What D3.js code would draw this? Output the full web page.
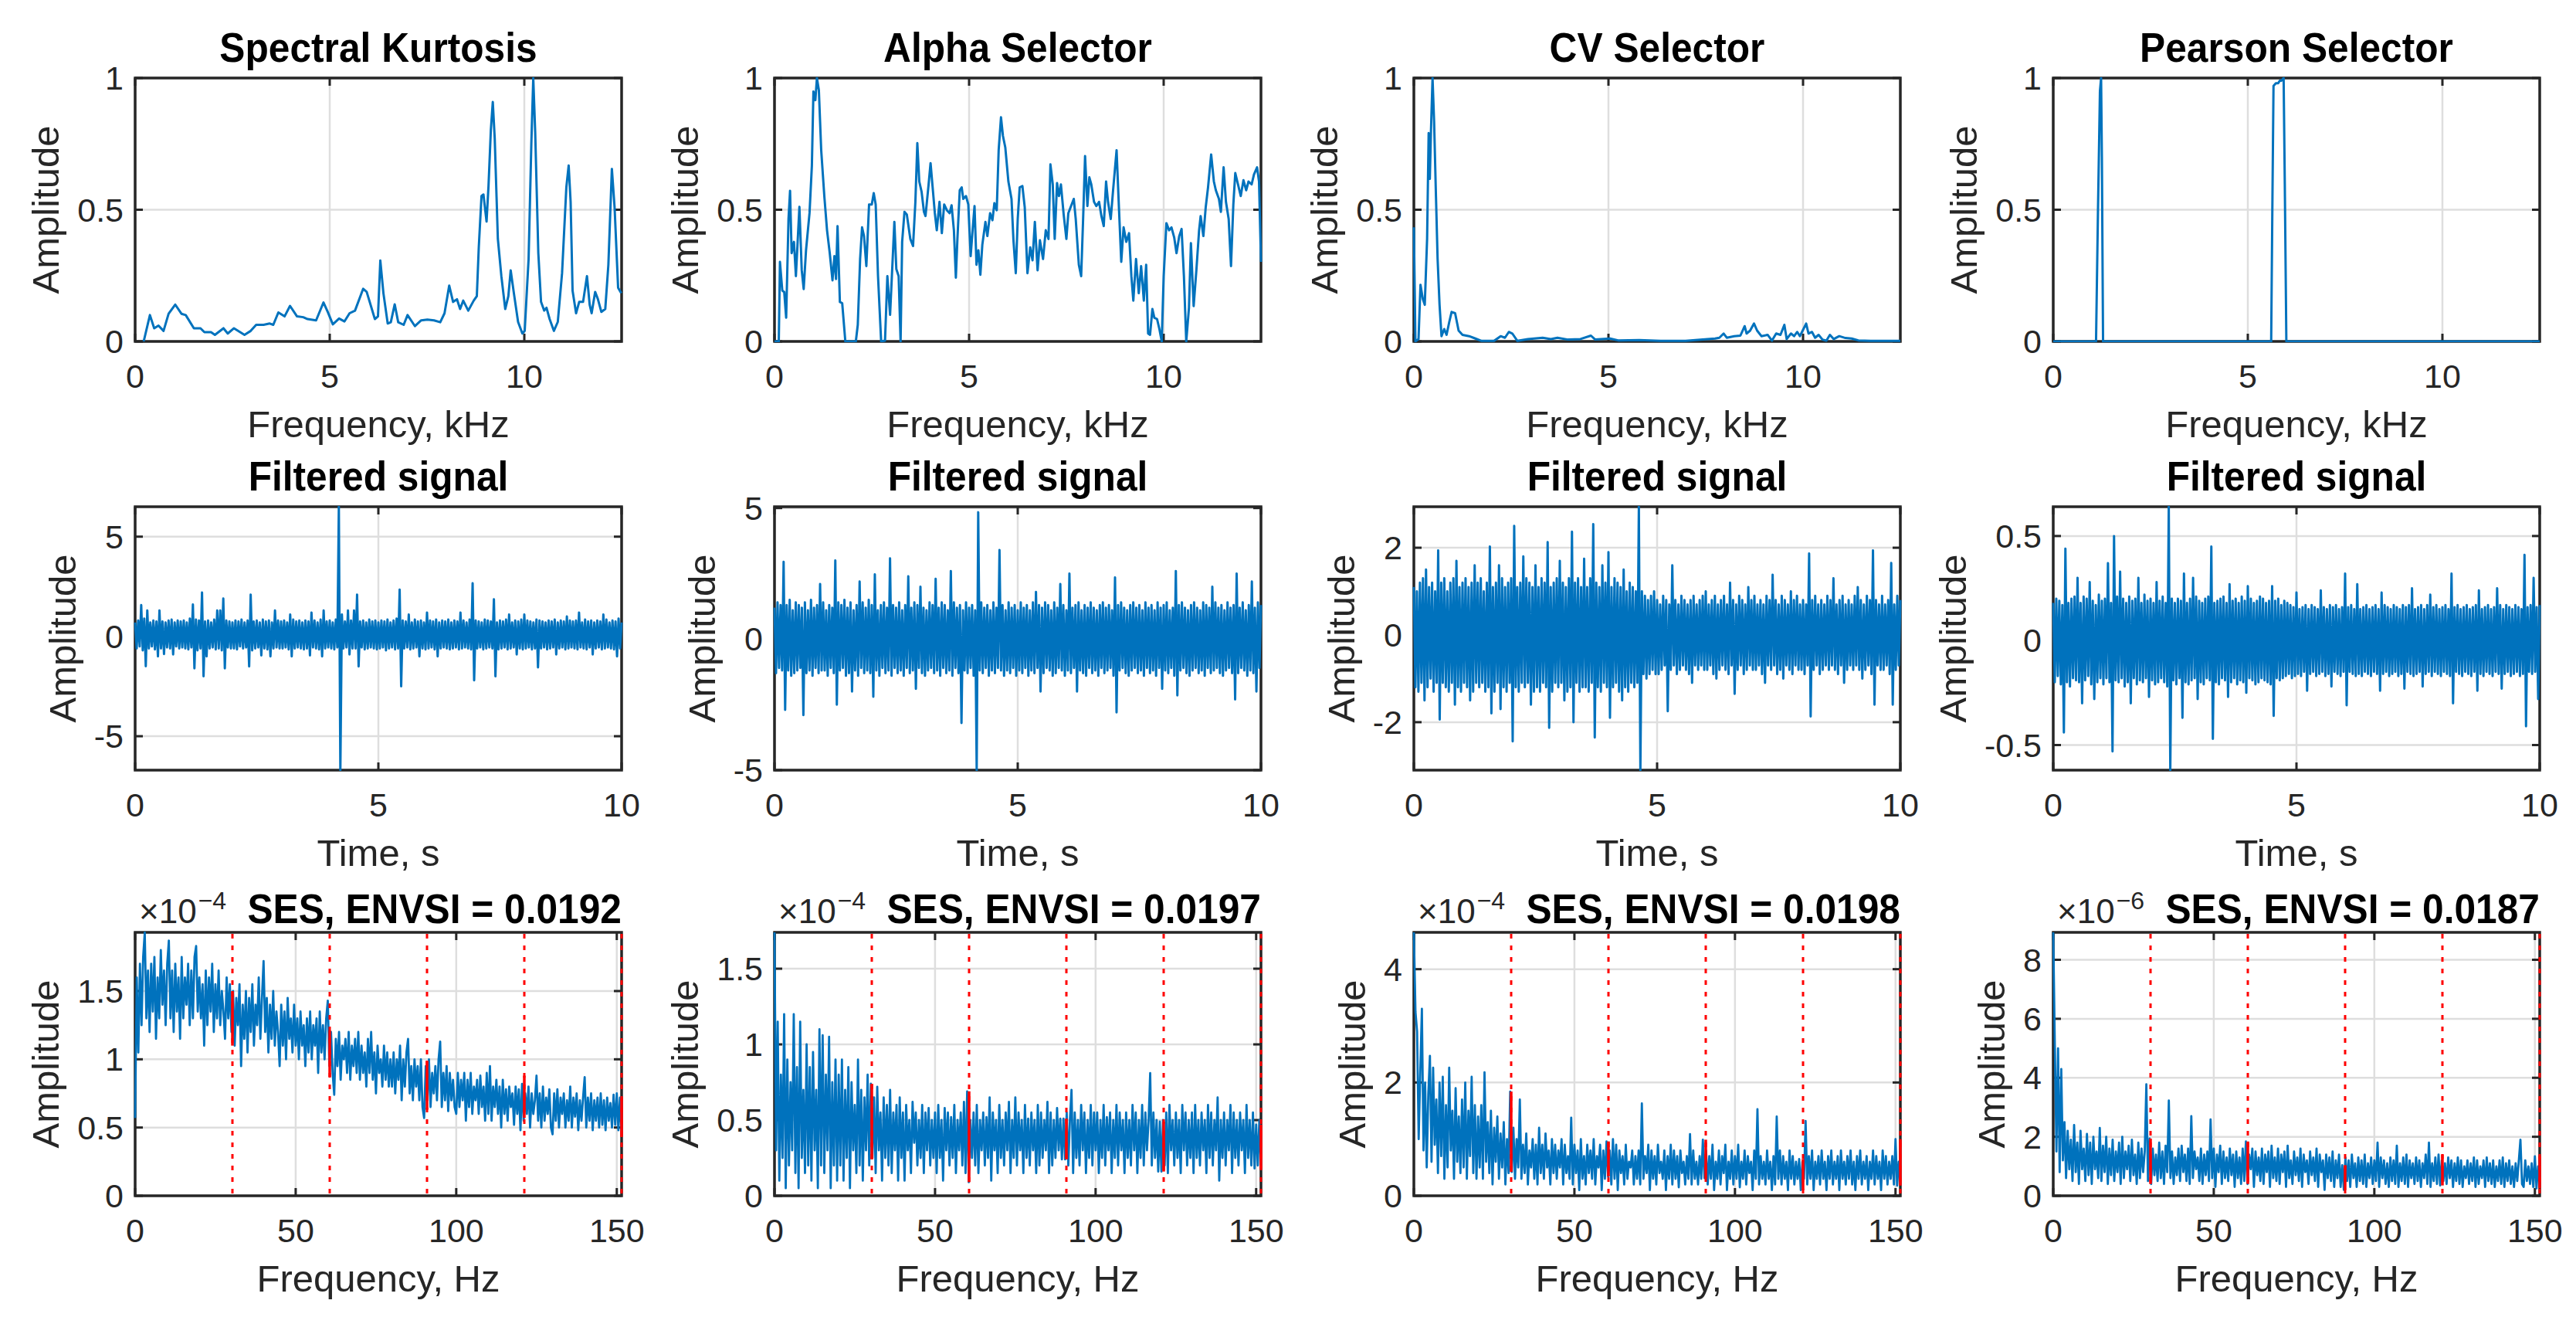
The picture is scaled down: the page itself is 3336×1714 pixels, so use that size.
<!DOCTYPE html>
<html><head><meta charset="utf-8">
<script src="https://cdn.jsdelivr.net/npm/d3@7"></script>
<style>
body{margin:0;background:#fff}
svg{display:block}
text{font-family:"Liberation Sans",Arial,Helvetica,sans-serif}
</style>
</head><body>
<svg id="chart" width="3336" height="1714"></svg>
<script>
// ---------------- DATA ----------------
const topTitles = ["Spectral Kurtosis", "Alpha Selector", "CV Selector", "Pearson Selector"];
const midTitle = "Filtered signal";
const sesTitles = ["SES, ENVSI = 0.0192", "SES, ENVSI = 0.0197", "SES, ENVSI = 0.0198", "SES, ENVSI = 0.0187"];
const sesExponents = ["\u22124", "\u22124", "\u22124", "\u22126"];
const yLabel = "Amplitude";
const xLabels = ["Frequency, kHz", "Time, s", "Frequency, Hz"];

// Row 1 : selector curves  [frequency kHz, amplitude]
const skCurve = [[0.22,0],[0.38,0.10],[0.49,0.05],[0.6,0.06],[0.73,0.04],[0.86,0.105],[1.03,0.14],[1.19,0.105],[1.3,0.10],[1.51,0.05],[1.68,0.05],[1.78,0.035],[1.95,0.035],[2.05,0.025],[2.27,0.05],[2.38,0.03],[2.54,0.05],[2.81,0.025],[2.97,0.04],[3.11,0.063],[3.3,0.063],[3.46,0.068],[3.55,0.063],[3.68,0.11],[3.84,0.095],[3.98,0.135],[4.16,0.095],[4.32,0.092],[4.43,0.085],[4.65,0.08],[4.84,0.148],[4.95,0.112],[5.08,0.065],[5.24,0.087],[5.38,0.076],[5.51,0.107],[5.65,0.117],[5.86,0.2],[5.95,0.188],[6.16,0.085],[6.24,0.095],[6.3,0.307],[6.38,0.183],[6.49,0.068],[6.57,0.073],[6.67,0.141],[6.76,0.073],[6.9,0.063],[7.0,0.1],[7.19,0.058],[7.35,0.08],[7.51,0.083],[7.68,0.08],[7.84,0.073],[7.95,0.107],[8.07,0.212],[8.17,0.15],[8.27,0.16],[8.35,0.123],[8.43,0.155],[8.56,0.117],[8.7,0.155],[8.78,0.172],[8.83,0.357],[8.9,0.552],[8.95,0.558],[9.03,0.455],[9.08,0.59],[9.14,0.802],[9.19,0.909],[9.24,0.77],[9.32,0.39],[9.41,0.248],[9.51,0.123],[9.59,0.172],[9.65,0.27],[9.73,0.185],[9.84,0.074],[9.95,0.03],[10.01,0.04],[10.11,0.313],[10.18,0.748],[10.23,1.0],[10.28,0.793],[10.36,0.335],[10.43,0.15],[10.51,0.117],[10.57,0.128],[10.65,0.085],[10.76,0.04],[10.86,0.074],[10.97,0.259],[11.08,0.585],[11.14,0.668],[11.19,0.53],[11.24,0.193],[11.33,0.107],[11.41,0.15],[11.51,0.15],[11.61,0.248],[11.68,0.139],[11.73,0.107],[11.82,0.188],[11.89,0.161],[11.98,0.112],[12.08,0.123],[12.16,0.291],[12.25,0.655],[12.32,0.508],[12.41,0.204],[12.49,0.183]];

const alphaCurve = [[0,0],[0.11,0],[0.14,0.302],[0.2,0.193],[0.25,0.188],[0.3,0.09],[0.36,0.465],[0.4,0.572],[0.44,0.335],[0.5,0.378],[0.55,0.248],[0.64,0.511],[0.7,0.27],[0.75,0.199],[0.81,0.346],[0.9,0.487],[0.96,0.666],[1.0,0.949],[1.05,0.916],[1.09,1.0],[1.14,0.954],[1.2,0.726],[1.28,0.552],[1.35,0.422],[1.42,0.335],[1.49,0.232],[1.54,0.324],[1.58,0.237],[1.62,0.438],[1.68,0.15],[1.74,0.145],[1.82,0],[2.09,0],[2.14,0.063],[2.2,0.313],[2.25,0.433],[2.3,0.4],[2.36,0.286],[2.43,0.52],[2.5,0.52],[2.55,0.563],[2.6,0.52],[2.66,0.248],[2.74,0],[2.84,0.003],[2.9,0.248],[2.97,0.101],[3.04,0.324],[3.08,0.454],[3.13,0.275],[3.19,0.248],[3.24,0],[3.28,0.378],[3.34,0.492],[3.4,0.482],[3.49,0.389],[3.56,0.362],[3.62,0.53],[3.67,0.753],[3.72,0.607],[3.78,0.568],[3.84,0.492],[3.88,0.476],[3.96,0.596],[4.01,0.677],[4.07,0.574],[4.12,0.487],[4.17,0.422],[4.24,0.53],[4.3,0.411],[4.36,0.52],[4.43,0.498],[4.5,0.487],[4.55,0.517],[4.61,0.422],[4.66,0.242],[4.7,0.389],[4.76,0.574],[4.81,0.585],[4.85,0.541],[4.92,0.552],[4.98,0.52],[5.04,0.324],[5.09,0.422],[5.14,0.514],[5.19,0.291],[5.24,0.346],[5.29,0.253],[5.34,0.367],[5.42,0.454],[5.47,0.4],[5.54,0.487],[5.6,0.46],[5.65,0.525],[5.71,0.498],[5.76,0.726],[5.82,0.851],[5.87,0.78],[5.93,0.737],[6.01,0.607],[6.09,0.541],[6.14,0.384],[6.2,0.259],[6.25,0.465],[6.3,0.585],[6.37,0.59],[6.43,0.509],[6.5,0.259],[6.57,0.357],[6.63,0.308],[6.69,0.454],[6.76,0.27],[6.82,0.384],[6.9,0.313],[6.97,0.422],[7.04,0.389],[7.09,0.672],[7.15,0.596],[7.2,0.389],[7.26,0.601],[7.31,0.552],[7.36,0.596],[7.43,0.482],[7.5,0.389],[7.55,0.487],[7.62,0.514],[7.69,0.541],[7.74,0.465],[7.82,0.291],[7.88,0.248],[7.93,0.465],[7.98,0.704],[8.04,0.514],[8.09,0.623],[8.14,0.596],[8.21,0.53],[8.27,0.514],[8.34,0.53],[8.4,0.476],[8.46,0.438],[8.52,0.607],[8.57,0.53],[8.64,0.465],[8.7,0.574],[8.79,0.726],[8.85,0.509],[8.91,0.302],[8.97,0.433],[9.04,0.378],[9.11,0.411],[9.17,0.248],[9.22,0.155],[9.29,0.313],[9.36,0.183],[9.42,0.286],[9.49,0.155],[9.55,0.291],[9.6,0.03],[9.65,0.025],[9.71,0.123],[9.76,0.09],[9.83,0.085],[9.89,0.047],[9.95,0],[10.0,0.248],[10.07,0.449],[10.14,0.422],[10.2,0.433],[10.27,0.395],[10.33,0.335],[10.4,0.4],[10.46,0.427],[10.52,0.248],[10.58,0],[10.65,0.128],[10.7,0.373],[10.77,0.134],[10.84,0.27],[10.91,0.422],[10.95,0.476],[11.02,0.4],[11.08,0.509],[11.14,0.585],[11.22,0.71],[11.29,0.607],[11.34,0.574],[11.42,0.541],[11.47,0.492],[11.54,0.661],[11.6,0.53],[11.67,0.465],[11.73,0.286],[11.79,0.52],[11.84,0.639],[11.91,0.596],[11.98,0.552],[12.05,0.612],[12.12,0.574],[12.18,0.607],[12.26,0.596],[12.32,0.634],[12.4,0.661],[12.45,0.607],[12.5,0.302]];

const cvCurve = [[0,0.433],[0.04,0],[0.12,0.009],[0.17,0.215],[0.23,0.161],[0.28,0.139],[0.34,0.389],[0.38,0.791],[0.41,0.617],[0.44,0.802],[0.48,1.0],[0.52,0.835],[0.56,0.596],[0.61,0.313],[0.66,0.139],[0.71,0.02],[0.78,0.047],[0.84,0.025],[0.91,0.074],[0.97,0.112],[1.06,0.107],[1.15,0.041],[1.25,0.025],[1.42,0.02],[1.58,0.011],[1.74,0.002],[2.06,0.002],[2.23,0.02],[2.34,0.014],[2.44,0.036],[2.53,0.03],[2.66,0.002],[2.93,0.009],[3.09,0.011],[3.31,0.014],[3.52,0.009],[3.69,0.014],[3.96,0.007],[4.28,0.009],[4.55,0.022],[4.66,0.007],[5.04,0.011],[5.25,0.004],[5.79,0.005],[6.34,0.002],[6.98,0.002],[7.42,0.007],[7.74,0.011],[7.85,0.014],[7.96,0.03],[8.04,0.014],[8.23,0.02],[8.39,0.022],[8.5,0.058],[8.55,0.03],[8.64,0.041],[8.74,0.068],[8.82,0.041],[8.93,0.02],[9.09,0.025],[9.2,0.003],[9.31,0.03],[9.42,0.025],[9.52,0.063],[9.58,0.009],[9.69,0.03],[9.77,0.02],[9.85,0.036],[9.92,0.02],[10.01,0.047],[10.08,0.068],[10.14,0.03],[10.23,0.036],[10.31,0.014],[10.4,0.025],[10.5,0.007],[10.6,0.003],[10.69,0.025],[10.79,0.009],[10.93,0.02],[11.09,0.013],[11.25,0.011],[11.42,0.004],[11.74,0.002],[12.5,0.002]];

const pearsonCurve = [[0,0],[1.1,0],[1.15,0.5],[1.2,0.95],[1.23,1.0],[1.25,0.7],[1.28,0],[5.6,0],[5.63,0.5],[5.66,0.97],[5.72,0.98],[5.78,0.98],[5.82,0.99],[5.86,0.99],[5.92,1.0],[5.95,0.6],[5.99,0],[12.5,0]];

// Row 2 : filtered signals (321 samples over 0..10 s, 16 per half second)
const filtered1 = [
0.7,-0.6,0.8,-0.5,1.57,-0.7,0.9,-1.49,1.3,-0.6,0.7,-0.5,0.8,-0.65,0.75,-1.0,
1.3,-0.6,0.75,-0.88,0.7,-0.55,0.8,-0.6,0.85,-0.9,0.7,-0.5,0.8,-0.6,0.75,-0.55,
0.8,-0.6,0.7,-0.65,0.9,-0.55,1.6,-1.6,0.85,-0.7,0.8,-0.6,2.2,-2.0,0.75,-1.0,
0.8,-0.6,0.7,-0.55,0.85,-0.65,1.3,-0.6,1.3,-0.7,1.9,-1.6,0.8,-0.55,0.75,-0.6,
0.7,-0.6,0.8,-0.65,0.75,-0.5,0.85,-0.6,0.7,-0.55,0.8,-1.5,2.1,-0.7,0.75,-0.6,
0.8,-0.55,0.7,-0.95,0.85,-0.6,0.75,-0.65,0.8,-1.0,0.7,-0.6,1.3,-0.55,0.8,-0.6,
0.75,-0.6,0.8,-0.55,0.7,-0.65,1.1,-1.0,0.85,-0.6,0.75,-0.55,0.8,-0.6,0.7,-0.65,
0.8,-0.6,0.75,-0.95,1.2,-0.55,0.8,-0.6,0.7,-0.65,0.85,-1.0,1.3,-0.6,0.75,-0.55,
0.8,-0.6,0.7,-0.65,0.85,-0.55,6.5,-6.7,1.1,-0.6,0.75,-0.55,1.3,-0.9,0.8,-0.6,
1.3,-0.6,2.1,-1.5,0.75,-0.55,0.8,-0.65,0.7,-0.6,0.85,-0.55,0.75,-0.6,0.8,-0.65,
0.7,-0.6,0.8,-0.55,0.75,-0.7,0.85,-0.6,0.7,-0.55,0.8,-0.65,0.9,-0.6,2.35,-2.5,
0.8,-0.6,0.75,-0.55,1.1,-0.65,0.7,-0.6,0.85,-0.55,0.75,-1.0,0.8,-0.6,0.7,-0.65,
1.2,-0.6,0.8,-0.55,0.75,-0.65,0.85,-1.0,0.7,-0.6,0.8,-0.55,0.75,-0.6,0.85,-0.65,
0.7,-0.6,0.8,-0.55,0.75,-0.65,1.2,-0.6,0.8,-0.55,0.7,-0.6,0.85,-0.65,2.67,-2.2,
0.8,-0.6,0.75,-0.55,0.7,-0.65,0.85,-0.6,0.8,-0.55,0.75,-0.6,1.86,-2.0,0.7,-0.65,
0.8,-0.6,0.75,-0.55,0.85,-0.65,1.1,-0.6,0.7,-0.55,0.8,-0.9,0.75,-0.6,0.85,-0.65,
1.1,-0.6,0.8,-0.55,0.75,-0.65,0.7,-0.6,0.85,-1.55,0.8,-0.6,0.75,-0.55,0.7,-0.65,
0.8,-0.6,0.75,-0.55,0.85,-0.9,0.7,-0.6,0.8,-0.55,0.75,-0.65,1.0,-0.6,0.8,-0.55,
0.75,-0.6,0.8,-0.65,1.2,-0.55,0.7,-0.6,0.85,-0.65,0.75,-0.55,0.8,-0.9,0.7,-0.6,
0.8,-0.55,0.75,-0.65,1.1,-0.6,0.85,-0.55,0.7,-0.6,0.8,-0.65,0.75,-1.0,0.9,-0.6,
0.7];

const filtered2 = [
1.2,-1.3,1.4,-1.1,1.3,-1.2,2.95,-2.7,1.3,-1.2,1.5,-1.4,1.1,-1.3,1.4,-1.2,
1.3,-1.1,1.2,-2.9,1.4,-1.3,1.1,-1.2,1.5,-1.4,1.2,-1.1,1.3,-1.3,2.1,-1.2,
1.4,-1.2,1.1,-1.4,1.3,-1.1,1.2,-1.3,3.0,-2.5,1.4,-1.2,1.3,-1.1,1.5,-1.4,
1.2,-1.3,1.4,-2.0,1.1,-1.2,1.3,-1.4,2.2,-1.1,1.4,-1.3,1.2,-1.2,1.5,-1.3,
1.3,-2.2,2.47,-1.2,1.1,-1.4,1.3,-1.1,1.4,-1.3,1.2,-1.2,3.08,-1.4,1.3,-1.1,
1.2,-1.3,1.4,-1.2,1.1,-1.4,1.3,-1.1,2.4,-1.3,1.2,-1.2,1.4,-1.9,1.3,-1.1,
2.0,-1.3,1.2,-1.4,1.1,-1.2,1.4,-1.1,1.3,-1.3,2.3,-1.2,1.2,-1.4,1.4,-1.1,
1.3,-1.3,1.1,-1.2,2.6,-1.4,1.4,-1.1,1.2,-1.3,1.3,-3.2,1.1,-1.2,1.4,-1.3,
1.2,-1.1,1.3,-1.4,1.1,-5.0,4.84,-1.2,1.4,-1.3,1.2,-1.1,1.3,-1.4,1.1,-1.2,
1.4,-1.3,1.2,-1.1,3.4,-1.2,1.3,-1.4,1.1,-1.2,1.4,-1.3,1.2,-1.1,1.3,-1.4,
1.1,-1.2,1.4,-1.3,1.2,-1.1,1.3,-1.4,1.1,-1.2,1.4,-1.3,1.8,-1.1,1.3,-2.0,
1.2,-1.3,1.4,-1.1,1.3,-1.2,1.1,-1.4,1.4,-1.3,1.2,-1.1,2.1,-1.2,1.3,-1.4,
1.1,-1.2,2.5,-1.3,1.2,-1.1,1.3,-2.0,1.4,-1.2,1.1,-1.3,1.3,-1.4,1.2,-1.1,
1.4,-1.3,1.2,-1.2,1.1,-1.4,1.3,-1.1,1.4,-1.3,1.2,-1.2,1.3,-1.1,1.1,-1.4,
2.35,-2.8,1.3,-1.2,1.4,-1.1,1.2,-1.3,1.1,-1.4,1.3,-1.2,1.4,-1.1,1.2,-1.3,
1.3,-1.2,1.1,-1.4,1.4,-1.1,1.2,-1.3,1.3,-1.2,1.1,-1.4,1.4,-1.1,1.2,-1.9,
1.3,-1.2,1.4,-1.3,1.1,-1.1,1.2,-1.4,2.6,-2.15,1.3,-1.2,1.4,-1.1,1.2,-1.3,
1.1,-1.4,1.3,-1.2,1.4,-1.1,1.2,-1.3,1.1,-1.2,1.4,-1.4,1.3,-1.1,1.2,-1.3,
2.0,-1.2,1.4,-1.1,1.2,-1.3,1.3,-1.4,1.1,-1.2,1.4,-1.1,1.2,-1.3,1.3,-2.3,
2.5,-1.3,1.2,-1.1,1.4,-1.2,1.1,-1.4,1.3,-1.2,2.2,-1.3,1.2,-2.0,1.4,-1.1,
1.3];

const filtered3 = [
1.1,-1.2,1.0,-1.3,1.2,-1.1,1.3,-1.5,1.5,-1.2,1.1,-1.0,1.2,-1.3,1.0,-1.1,
1.94,-1.94,1.2,-1.1,1.3,-1.2,1.0,-1.3,1.2,-1.1,1.3,-1.6,1.7,-1.2,1.1,-1.3,
1.2,-1.1,1.3,-1.2,1.1,-1.5,1.2,-1.3,1.6,-1.1,1.2,-1.2,1.3,-1.1,1.0,-1.3,
1.2,-1.2,2.03,-1.8,1.1,-1.3,1.2,-1.1,1.6,-1.7,1.3,-1.2,1.1,-1.3,1.2,-1.1,
1.3,-2.44,2.5,-1.2,1.1,-1.3,1.2,-1.1,1.8,-1.2,1.3,-1.1,1.2,-1.6,1.1,-1.3,
1.6,-1.2,1.1,-1.3,1.3,-1.1,1.2,-1.2,2.13,-2.13,1.1,-1.3,1.2,-1.1,1.3,-1.2,
1.7,-1.1,1.2,-1.5,1.1,-1.3,1.3,-1.2,2.37,-2.0,1.2,-1.1,1.3,-1.3,1.1,-1.2,
1.75,-1.2,1.1,-1.3,1.3,-1.1,2.54,-2.35,1.2,-1.2,1.1,-1.3,1.6,-1.1,1.2,-1.2,
1.9,-1.9,1.1,-1.2,1.3,-1.1,1.2,-1.3,1.1,-1.5,1.5,-1.2,1.0,-1.3,1.2,-1.1,
1.1,-1.2,1.0,-1.1,2.94,-3.1,1.0,-0.9,0.9,-1.0,0.8,-0.9,0.9,-0.8,1.0,-0.9,
0.8,-0.9,0.7,-0.8,0.9,-0.7,0.8,-1.75,0.7,-0.8,1.6,-0.7,0.8,-0.9,0.7,-0.8,
0.9,-0.7,0.8,-0.8,0.7,-0.9,0.8,-1.1,0.9,-0.7,0.7,-0.8,0.8,-0.7,0.9,-0.8,
1.0,-0.8,0.7,-0.7,0.8,-0.9,0.9,-1.0,0.7,-0.8,0.8,-0.7,0.9,-0.8,0.7,-0.9,
1.2,-0.7,0.8,-1.35,0.7,-0.8,0.9,-0.7,0.8,-0.9,0.7,-0.8,1.1,-0.7,0.8,-0.8,
0.9,-0.8,0.7,-0.7,0.8,-0.9,0.7,-1.1,0.9,-0.7,0.8,-0.8,1.38,-0.7,0.8,-0.9,
0.7,-0.8,0.9,-1.0,0.8,-0.7,0.7,-0.8,1.0,-0.9,0.8,-0.7,0.9,-0.8,0.7,-0.8,
0.8,-0.9,0.7,-0.7,1.87,-1.87,0.8,-0.8,0.9,-0.7,0.7,-0.9,0.8,-0.8,0.7,-0.7,
0.9,-0.8,0.8,-0.7,1.3,-0.8,0.7,-0.9,0.8,-0.7,0.9,-1.1,0.7,-0.8,0.8,-0.7,
0.7,-0.8,0.9,-0.7,1.1,-0.8,0.8,-1.0,0.7,-0.8,0.9,-0.7,0.8,-0.9,1.94,-1.6,
0.8,-0.7,0.7,-0.8,0.9,-0.8,0.7,-0.7,0.8,-0.9,1.65,-1.6,0.7,-0.8,0.9,-0.7,
0.8];

const filtered4 = [
0.18,-0.2,0.2,-0.17,0.19,-0.21,0.17,-0.44,0.44,-0.2,0.18,-0.22,0.2,-0.18,0.21,-0.19,
0.3,-0.2,0.18,-0.3,0.21,-0.19,0.2,-0.17,0.28,-0.21,0.19,-0.28,0.17,-0.2,0.22,-0.18,
0.19,-0.21,0.2,-0.18,0.37,-0.2,0.18,-0.53,0.5,-0.19,0.21,-0.2,0.33,-0.18,0.2,-0.22,
0.18,-0.2,0.21,-0.3,0.19,-0.18,0.2,-0.21,0.3,-0.19,0.18,-0.2,0.22,-0.18,0.19,-0.27,
0.2,-0.19,0.18,-0.21,0.28,-0.2,0.19,-0.18,0.21,-0.2,0.18,-0.22,0.64,-0.62,0.2,-0.19,
0.18,-0.21,0.2,-0.18,0.19,-0.37,0.32,-0.2,0.18,-0.21,0.2,-0.19,0.3,-0.18,0.21,-0.28,
0.19,-0.2,0.18,-0.21,0.2,-0.18,0.21,-0.19,0.45,-0.47,0.18,-0.2,0.19,-0.21,0.2,-0.18,
0.21,-0.19,0.18,-0.27,0.27,-0.2,0.19,-0.18,0.2,-0.21,0.18,-0.19,0.21,-0.2,0.19,-0.25,
0.26,-0.18,0.2,-0.19,0.18,-0.21,0.19,-0.2,0.21,-0.18,0.2,-0.19,0.18,-0.2,0.19,-0.21,
0.26,-0.36,0.19,-0.18,0.2,-0.19,0.17,-0.18,0.19,-0.17,0.18,-0.16,0.17,-0.18,0.16,-0.17,
0.23,-0.16,0.15,-0.17,0.16,-0.15,0.17,-0.24,0.15,-0.16,0.17,-0.15,0.16,-0.17,0.15,-0.16,
0.24,-0.15,0.16,-0.17,0.15,-0.16,0.17,-0.22,0.16,-0.15,0.17,-0.16,0.15,-0.17,0.16,-0.15,
0.32,-0.31,0.16,-0.15,0.17,-0.16,0.15,-0.17,0.27,-0.16,0.15,-0.17,0.16,-0.15,0.17,-0.16,
0.15,-0.17,0.16,-0.15,0.17,-0.16,0.15,-0.24,0.23,-0.16,0.17,-0.15,0.16,-0.17,0.15,-0.16,
0.17,-0.15,0.16,-0.17,0.15,-0.16,0.17,-0.23,0.16,-0.15,0.17,-0.16,0.25,-0.17,0.15,-0.16,
0.16,-0.15,0.17,-0.22,0.15,-0.16,0.17,-0.15,0.22,-0.17,0.16,-0.15,0.17,-0.16,0.15,-0.17,
0.16,-0.15,0.17,-0.16,0.15,-0.17,0.32,-0.3,0.16,-0.15,0.17,-0.16,0.15,-0.17,0.16,-0.15,
0.17,-0.16,0.15,-0.17,0.16,-0.15,0.17,-0.24,0.24,-0.16,0.15,-0.17,0.16,-0.15,0.17,-0.16,
0.15,-0.17,0.16,-0.15,0.25,-0.16,0.17,-0.23,0.15,-0.16,0.17,-0.15,0.16,-0.17,0.15,-0.16,
0.17,-0.15,0.16,-0.17,0.15,-0.16,0.41,-0.41,0.16,-0.15,0.17,-0.16,0.3,-0.15,0.16,-0.28,
0.17];

// Row 3 : squared envelope spectra (304 bins, 0..151.5 Hz, 20 per 10 Hz), in units of the exponent
const ses1 = [
0.57,1.6,1.05,1.7,1.25,1.75,1.93,1.3,1.65,1.2,1.7,1.35,1.75,1.15,1.6,1.3,1.8,1.4,1.65,1.25,
1.7,1.87,1.3,1.65,1.2,1.7,1.35,1.6,1.15,1.75,1.3,1.6,1.4,1.7,1.25,1.65,1.3,1.75,1.83,1.35,
1.6,1.3,1.55,1.1,1.65,1.25,1.6,1.35,1.7,1.2,1.55,1.3,1.65,1.25,1.5,1.35,1.15,1.6,1.3,1.55,
1.2,1.5,1.1,1.45,1.25,1.55,0.95,1.4,1.15,1.5,1.05,1.45,1.2,1.55,1.1,1.4,1.25,1.6,1.15,1.45,
1.72,1.2,1.45,1.05,1.4,1.15,1.5,1.1,1.35,1.2,0.95,1.4,1.1,1.35,1.0,1.45,1.15,1.3,1.05,1.4,
1.1,1.3,1.0,1.35,1.1,1.25,0.95,1.3,1.05,1.35,1.0,1.25,1.1,1.3,0.9,1.35,1.05,1.25,1.0,1.3,
1.43,0.95,1.2,0.9,0.74,1.15,0.95,1.2,0.85,1.1,1.0,1.15,0.9,1.2,0.85,1.1,0.95,1.15,0.9,1.2,
0.85,1.1,0.9,1.05,0.8,1.15,0.9,1.2,0.85,1.05,0.75,1.1,0.9,1.0,0.8,1.1,0.85,1.05,0.8,1.0,
0.8,1.05,0.75,1.0,0.85,1.1,0.7,1.0,0.8,1.05,1.15,0.75,0.95,0.7,1.0,0.8,0.95,0.7,1.0,0.65,
0.57,0.95,0.7,1.0,0.65,0.9,0.75,0.95,0.7,1.0,1.13,0.65,0.9,0.7,0.95,0.62,0.9,0.7,0.85,0.65,
0.6,0.9,0.65,0.85,0.7,0.9,0.55,0.85,0.65,0.9,0.6,0.8,0.7,0.85,0.6,0.88,0.65,0.8,0.55,0.9,
0.6,0.95,0.55,0.8,0.65,0.85,0.6,0.8,0.5,0.85,0.6,0.78,0.55,0.8,0.65,0.75,0.52,0.8,0.6,0.78,
0.48,0.82,0.55,0.75,0.6,0.8,0.5,0.75,0.6,0.7,0.88,0.55,0.75,0.5,0.8,0.55,0.72,0.6,0.78,0.5,
0.45,0.75,0.55,0.78,0.5,0.72,0.6,0.75,0.5,0.7,0.55,0.8,0.5,0.72,0.58,0.75,0.48,0.7,0.55,0.72,
0.87,0.5,0.72,0.55,0.75,0.48,0.7,0.55,0.72,0.5,0.75,0.52,0.7,0.48,0.72,0.55,0.68,0.5,0.74,0.52,
0.75,0.48,0.72,0.45];

const ses2 = [
1.74,0.3,1.15,0.1,0.8,0.25,1.2,0.05,0.9,0.2,0.75,0.3,1.2,0.15,0.85,0.05,1.15,0.25,0.7,0.15,
1.0,0.2,0.85,0.1,0.95,0.3,0.7,0.05,1.1,0.2,1.06,0.15,0.8,0.3,1.05,0.05,0.75,0.2,0.9,0.1,
0.8,0.2,0.9,0.1,0.7,0.25,0.85,0.05,0.75,0.3,0.6,0.15,0.9,0.2,0.7,0.1,0.65,0.3,0.8,0.2,
0.74,0.25,0.65,0.15,0.72,0.3,0.55,0.1,0.65,0.25,0.6,0.2,0.7,0.15,0.55,0.3,0.6,0.1,0.65,0.25,
0.55,0.1,0.6,0.3,0.5,0.15,0.62,0.35,0.55,0.2,0.5,0.25,0.6,0.15,0.55,0.3,0.58,0.2,0.5,0.25,
0.55,0.15,0.6,0.25,0.5,0.1,0.58,0.3,0.55,0.2,0.52,0.25,0.6,0.15,0.5,0.3,0.55,0.2,0.62,0.15,
0.69,0.09,0.5,0.25,0.55,0.2,0.6,0.15,0.5,0.3,0.55,0.2,0.52,0.25,0.65,0.1,0.55,0.3,0.5,0.15,
0.6,0.25,0.5,0.2,0.55,0.3,0.62,0.15,0.5,0.25,0.65,0.2,0.55,0.3,0.5,0.15,0.6,0.25,0.51,0.2,
0.55,0.3,0.5,0.15,0.6,0.2,0.55,0.25,0.5,0.3,0.62,0.15,0.55,0.2,0.5,0.25,0.58,0.3,0.51,0.24,
0.51,0.24,0.55,0.2,0.5,0.7,0.15,0.55,0.25,0.5,0.2,0.6,0.3,0.55,0.15,0.5,0.25,0.6,0.2,0.55,
0.3,0.55,0.15,0.5,0.25,0.6,0.2,0.52,0.3,0.55,0.15,0.5,0.25,0.6,0.2,0.55,0.3,0.5,0.15,0.55,
0.25,0.5,0.2,0.6,0.3,0.55,0.15,0.5,0.25,0.6,0.2,0.55,0.3,0.5,0.81,0.2,0.55,0.25,0.5,0.16,
0.49,0.16,0.5,0.2,0.55,0.15,0.6,0.3,0.5,0.2,0.55,0.25,0.5,0.15,0.6,0.3,0.55,0.2,0.5,0.25,
0.55,0.15,0.6,0.25,0.5,0.2,0.55,0.3,0.5,0.15,0.6,0.25,0.55,0.2,0.5,0.3,0.65,0.1,0.5,0.25,
0.55,0.2,0.5,0.3,0.6,0.15,0.55,0.25,0.5,0.2,0.55,0.3,0.5,0.15,0.6,0.25,0.5,0.2,0.55,0.18,
0.47,0.2,0.5,0.18];

const ses3 = [
4.65,3.25,2.9,1.0,2.2,3.3,0.8,2.0,0.5,1.8,2.47,0.6,2.26,0.9,1.7,0.4,2.0,0.7,2.1,0.3,
1.6,0.5,2.26,0.8,1.5,0.3,1.9,0.6,1.4,0.4,1.7,0.5,2.0,0.3,1.5,0.7,2.1,0.4,1.6,0.3,
1.4,0.5,1.6,0.3,2.18,0.6,1.3,0.4,1.5,0.2,1.2,0.6,1.4,0.3,1.1,0.5,1.3,0.2,1.0,0.4,
1.84,0.42,1.2,0.3,1.0,0.5,1.7,0.3,0.9,0.4,1.1,0.2,0.8,0.5,1.0,0.3,0.9,0.2,1.2,0.4,
0.9,0.3,1.1,0.5,0.8,0.2,1.0,0.4,0.9,0.3,0.8,0.5,1.0,0.2,0.9,0.4,0.7,0.3,1.38,0.2,
0.9,0.4,0.8,0.1,1.0,0.3,0.7,0.2,0.9,0.4,0.8,0.3,1.0,0.2,0.7,0.5,0.9,0.1,0.8,0.3,
0.96,0.34,0.8,0.2,1.0,0.3,0.9,0.1,0.8,0.4,0.7,0.2,0.9,0.3,0.6,0.5,0.8,0.2,0.7,0.3,
0.8,0.2,1.63,0.3,0.7,0.4,0.9,0.1,0.8,0.3,0.7,0.2,0.9,0.4,0.6,0.3,0.8,0.1,0.7,0.3,
0.9,0.2,0.8,0.3,0.7,0.15,0.8,0.4,0.6,0.2,0.7,0.3,1.09,0.2,0.8,0.3,0.6,0.2,0.7,0.3,
0.99,0.31,0.8,0.2,0.7,0.3,0.9,0.1,0.6,0.3,0.8,0.2,0.7,0.4,0.9,0.1,0.6,0.3,0.8,0.2,
0.7,0.3,0.9,0.15,0.6,0.3,0.8,0.2,0.7,0.4,0.6,0.1,0.8,0.3,1.53,0.2,0.7,0.3,0.6,0.2,
0.8,0.3,0.6,0.1,0.7,0.2,1.4,0.3,0.8,0.2,0.7,0.3,0.6,0.1,0.8,0.3,0.7,0.2,0.6,0.3,
0.65,0.1,0.6,0.3,1.32,0.2,0.7,0.3,0.8,0.1,0.6,0.3,0.7,0.2,0.8,0.3,0.6,0.1,0.7,0.3,
0.8,0.2,0.6,0.3,0.7,0.1,0.8,0.3,0.6,0.2,0.7,0.3,0.8,0.2,0.6,0.1,0.7,0.3,0.8,0.2,
0.6,0.3,0.7,0.1,0.6,0.3,0.8,0.2,0.7,0.3,0.6,0.1,0.8,0.3,0.7,0.2,0.6,0.3,0.7,0.2,
1.0,0.18,0.6,0.3];

const ses4 = [
8.93,5.1,1.5,5.0,0.8,4.3,1.2,2.5,0.6,2.2,0.9,1.9,0.5,2.4,0.8,1.8,0.4,2.2,0.9,1.6,
0.5,2.1,0.7,1.8,0.4,2.0,0.9,1.5,0.6,2.3,0.5,1.7,0.8,2.0,0.4,1.6,0.7,1.9,0.5,1.5,
0.8,1.8,0.4,2.0,0.6,1.5,0.9,1.7,0.5,1.9,0.7,1.4,0.4,1.8,0.6,1.6,0.8,1.5,3.78,0.5,
1.94,0.4,1.6,0.7,1.4,0.5,1.8,0.6,1.5,0.4,1.7,0.8,3.23,0.6,1.5,0.4,1.3,0.7,1.6,0.5,
1.7,0.8,1.4,0.5,1.6,0.4,2.7,0.6,1.5,0.9,1.3,0.5,1.6,0.4,1.4,0.7,1.5,0.5,2.59,0.6,
1.6,0.3,1.4,0.8,1.7,0.4,1.5,0.6,1.3,0.5,1.6,0.7,1.4,0.3,1.5,0.6,1.3,0.4,1.6,0.5,
1.84,0.4,1.4,0.9,1.6,0.3,1.5,0.7,1.3,0.5,1.6,0.4,1.4,0.8,1.5,0.3,1.7,0.6,1.3,0.5,
1.6,0.4,1.4,0.8,1.5,0.3,1.7,0.6,1.2,0.4,1.5,0.7,1.3,0.5,1.6,0.3,1.4,0.8,1.2,0.4,
1.5,0.7,1.3,0.5,1.6,0.3,1.4,0.8,1.2,0.2,1.4,0.6,1.3,0.5,1.5,0.3,1.2,0.6,1.4,0.3,
1.04,0.2,1.3,0.5,1.2,0.3,1.4,0.6,1.1,0.3,1.3,0.5,1.2,0.4,1.4,0.3,1.1,0.6,1.3,0.4,
1.2,0.5,1.8,0.3,1.3,0.6,1.2,0.4,1.1,0.3,1.3,0.5,1.2,0.4,1.7,0.3,1.1,0.5,1.3,0.4,
1.4,0.3,1.2,0.6,1.1,0.4,1.3,0.5,1.2,0.3,1.1,0.6,1.4,0.4,1.8,0.3,1.1,0.5,1.3,0.4,
1.4,0.35,1.2,0.5,1.1,0.4,1.3,0.6,1.2,0.3,1.1,0.5,1.3,0.4,1.2,0.3,1.0,0.6,1.2,0.4,
1.1,0.5,1.3,0.3,1.2,0.4,1.0,0.6,1.2,0.3,1.3,0.5,1.1,0.4,1.2,0.3,1.0,0.5,1.2,0.4,
1.3,0.3,1.1,0.5,1.2,0.4,1.0,0.3,1.1,0.5,1.2,1.9,0.4,0.3,1.2,0.5,1.0,0.4,1.1,0.3,
1.34,0.25,1.0,0.3];

// fault harmonics (Hz) marked with red dotted lines, and the red spectrum segments at them [low, high]
const harmonicFreqs = [30.3, 60.6, 90.9, 121.2, 151.5];
const harmonicRanges = [
  [[1.1,1.5],[0.87,1.21],[0.63,0.99],[0.57,0.88],[0.43,0.72]],
  [[0.24,0.74],[0.09,0.69],[0.24,0.51],[0.16,0.49],[0.18,0.47]],
  [[0.42,1.84],[0.34,0.96],[0.31,0.99],[0.1,0.65],[0.18,1.0]],
  [[0.4,1.94],[0.4,1.84],[0.2,1.04],[0.35,1.4],[0.25,1.34]]
];

// axis limits and ticks
const topXMax = 12.5, topXTicks = [0,5,10], topYTicks = [0,0.5,1];
const timeMax = 10, timeTicks = [0,5,10];
const filteredYLims = [[-6.7,6.5],[-5.0,5.05],[-3.1,2.94],[-0.62,0.64]];
const filteredYTicks = [[-5,0,5],[-5,0,5],[-2,0,2],[-0.5,0,0.5]];
const sesFreqMax = 151.5, sesXTicks = [0,50,100,150];
const sesYMax = [1.93,1.74,4.65,8.93];
const sesYTicks = [[0,0.5,1,1.5],[0,0.5,1,1.5],[0,2,4],[0,2,4,6,8]];

// ---------------- LAYOUT / STYLE ----------------
const COLS = [175, 1003, 1831, 2659], PW = 630;
const ROWS = [101, 656, 1207], PH = 341;
const BLUE = "#0072BD", AXC = "#262626", GRID = "#dedede";
const TICK_FS = 43, LABEL_FS = 49, TITLE_FS = 54, TITLE_SX = 0.92;

const svg = d3.select("#chart");
svg.append("rect").attr("width",3336).attr("height",1714).attr("fill","#fff");
let clipId = 0;

function txt(parent, x, y, s, o) {
  let tr = `translate(${x},${y})`;
  if (o.rot) tr += ` rotate(${o.rot})`;
  if (o.sx && o.sx !== 1) tr += ` scale(${o.sx},1)`;
  return parent.append("g").attr("transform", tr).append("text")
    .attr("text-anchor", o.anchor || "start").attr("font-size", o.fs)
    .attr("font-weight", o.fw || "normal").attr("fill", o.fill || AXC).text(s);
}

function panel(col, row, cfg) {
  const left = COLS[col], top = ROWS[row];
  const x = d3.scaleLinear().domain(cfg.xDomain).range([left, left + PW]);
  const y = d3.scaleLinear().domain(cfg.yDomain).range([top + PH, top]);
  const g = svg.append("g");
  const cid = "clip" + (clipId++);
  g.append("clipPath").attr("id", cid).append("rect")
    .attr("x", left - 2).attr("y", top - 1).attr("width", PW + 4).attr("height", PH + 2);

  const eps = 1e-9;
  const xT = cfg.xTicks.filter(v => v >= cfg.xDomain[0] - eps && v <= cfg.xDomain[1] + eps);
  const yT = cfg.yTicks.filter(v => v >= cfg.yDomain[0] - eps && v <= cfg.yDomain[1] + 0.06);
  g.selectAll(".gx").data(xT).join("line")
    .attr("x1", d => x(d)).attr("x2", d => x(d)).attr("y1", top).attr("y2", top + PH)
    .attr("stroke", GRID).attr("stroke-width", 2.5);
  g.selectAll(".gy").data(yT).join("line")
    .attr("x1", left).attr("x2", left + PW).attr("y1", d => y(d)).attr("y2", d => y(d))
    .attr("stroke", GRID).attr("stroke-width", 2.5);

  // frame and inward ticks (data drawn on top, as in the original)
  g.append("rect").attr("x", left).attr("y", top).attr("width", PW).attr("height", PH)
    .attr("fill", "none").attr("stroke", AXC).attr("stroke-width", 3.5);
  const TL = 10;
  xT.forEach(v => {
    g.append("line").attr("x1", x(v)).attr("x2", x(v)).attr("y1", top + PH).attr("y2", top + PH - TL).attr("stroke", AXC).attr("stroke-width", 3);
    g.append("line").attr("x1", x(v)).attr("x2", x(v)).attr("y1", top).attr("y2", top + TL).attr("stroke", AXC).attr("stroke-width", 3);
  });
  yT.forEach(v => {
    g.append("line").attr("x1", left).attr("x2", left + TL).attr("y1", y(v)).attr("y2", y(v)).attr("stroke", AXC).attr("stroke-width", 3);
    g.append("line").attr("x1", left + PW).attr("x2", left + PW - TL).attr("y1", y(v)).attr("y2", y(v)).attr("stroke", AXC).attr("stroke-width", 3);
  });

  const dg = g.append("g").attr("clip-path", `url(#${cid})`);
  const line = d3.line().x(d => x(d[0])).y(d => y(d[1]));
  dg.append("path").datum(cfg.data).attr("d", line)
    .attr("fill", "none").attr("stroke", BLUE).attr("stroke-width", cfg.lw)
    .attr("stroke-linejoin", "round");

  if (cfg.harm) {
    const hg = g.append("g");
    hg.selectAll(".hd").data(harmonicFreqs).join("line")
      .attr("x1", d => x(d)).attr("x2", d => x(d)).attr("y1", top + 2).attr("y2", top + PH)
      .attr("stroke", "#ff0000").attr("stroke-width", 3).attr("stroke-dasharray", "6 9");
    hg.selectAll(".hs").data(harmonicFreqs.map((f, i) => [f, cfg.harm[i]])).join("line")
      .attr("x1", d => x(d[0])).attr("x2", d => x(d[0]))
      .attr("y1", d => y(d[1][0])).attr("y2", d => y(d[1][1]))
      .attr("stroke", "#ff0000").attr("stroke-width", 3.5);
  }

  // tick labels
  xT.forEach(v => txt(g, x(v), top + PH + 60, String(v), { fs: TICK_FS, anchor: "middle" }));
  let maxW = 0;
  yT.forEach(v => {
    const t = txt(g, left - 15, y(v) + 15, String(v), { fs: TICK_FS, anchor: "end" });
    maxW = Math.max(maxW, t.node().getComputedTextLength());
  });

  // axis labels
  txt(g, left + PW / 2, top + PH + 124, cfg.xLabel, { fs: LABEL_FS, anchor: "middle" });
  const yc = left - 15 - maxW - 42 + 18;
  txt(g, yc, top + PH / 2, yLabel, { fs: LABEL_FS, anchor: "middle", rot: -90 });

  // title
  if (cfg.exponent) {
    const t = g.append("text").attr("x", left + 5).attr("y", top - 12)
      .attr("font-size", 44).attr("fill", AXC);
    t.append("tspan").text("\u00d710");
    t.append("tspan").attr("font-size", 32).attr("dx", 2).attr("dy", -18).text(cfg.exponent);
    txt(g, left + PW, top - 12, cfg.title, { fs: TITLE_FS, fw: "bold", anchor: "end", fill: "#000", sx: TITLE_SX });
  } else {
    txt(g, left + PW / 2, top - 21, cfg.title, { fs: TITLE_FS, fw: "bold", anchor: "middle", fill: "#000", sx: TITLE_SX });
  }
}

// Row 1
[skCurve, alphaCurve, cvCurve, pearsonCurve].forEach((c, i) => {
  panel(i, 0, { xDomain: [0, topXMax], yDomain: [0, 1], xTicks: topXTicks, yTicks: topYTicks,
    data: c, lw: 3, xLabel: xLabels[0], title: topTitles[i] });
});

// Row 2
[filtered1, filtered2, filtered3, filtered4].forEach((s, i) => {
  const data = s.map((v, k) => [k * timeMax / (s.length - 1), v]);
  panel(i, 1, { xDomain: [0, timeMax], yDomain: filteredYLims[i], xTicks: timeTicks, yTicks: filteredYTicks[i],
    data, lw: 3, xLabel: xLabels[1], title: midTitle });
});

// Row 3
[ses1, ses2, ses3, ses4].forEach((s, i) => {
  const data = s.map((v, k) => [k * sesFreqMax / (s.length - 1), v]);
  panel(i, 2, { xDomain: [0, sesFreqMax], yDomain: [0, sesYMax[i]], xTicks: sesXTicks, yTicks: sesYTicks[i],
    data, lw: 2.8, xLabel: xLabels[2], title: sesTitles[i], exponent: sesExponents[i], harm: harmonicRanges[i] });
});
</script>
</body></html>
